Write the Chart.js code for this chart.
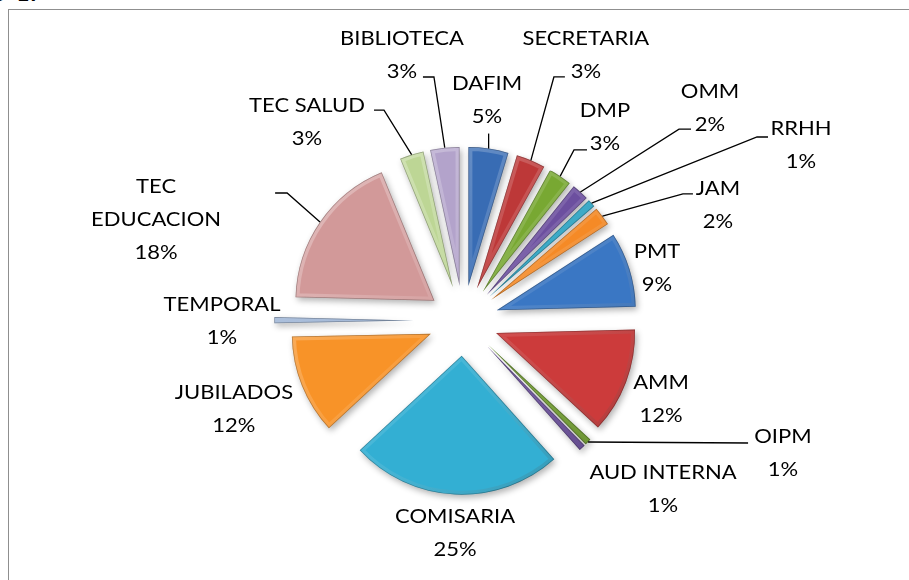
<!DOCTYPE html>
<html><head><meta charset="utf-8">
<script src="https://cdn.jsdelivr.net/npm/chart.js@4.4.1/dist/chart.umd.min.js"></script>
<style>
html,body{margin:0;padding:0;background:#fff;overflow:hidden;}
#wrap{position:relative;width:909px;height:580px;overflow:hidden;}
#frame{position:absolute;left:8px;top:9px;width:920px;height:600px;border-top:1.5px solid #8f8f8f;border-left:1.5px solid #8f8f8f;}
#cap{position:absolute;left:-7px;top:-18px;font:bold 20px "DejaVu Sans Mono";color:#000;white-space:pre;}
canvas{position:absolute;left:0;top:0;}
</style></head><body>
<div id="wrap"><div id="cap">o 17</div><div id="frame"></div><canvas id="c" width="909" height="580"></canvas></div>
<script>
// ---- data ----
const categories = ['DAFIM','SECRETARIA','DMP','OMM','RRHH','JAM','PMT','AMM','OIPM','AUD INTERNA','COMISARIA','JUBILADOS','TEMPORAL',['TEC','EDUCACION'],'TEC SALUD','BIBLIOTECA'];
const values = [4.65,3.4,2.7,2.0,0.9,2.2,8.75,12.3,0.75,0.75,24.7,11.6,0.7,18.4,2.8,3.4];

// ---- style / layout ----
const colors = ['#386cb4','#bd3838','#78a832','#6c4f9f','#27a1c1','#f58a26','#3a77c4','#cc3b3b','#78a832','#6c4f9f','#33afd3','#f89328','#94add1','#d29999','#bdd695','#b3a3cb'];
const explode = [35,35,35,35,35,35,35,35,35,35,35,35,50,35,35,35];
// label centre offset from the slice's outer mid point
const labelOffset = [[-1.6,-50],[55,-106],[44.8,-49.8],[129.6,-85.4],[209.4,-58.7],[115.5,-11.8],[27.5,-2.3],[35,16.3],[194.9,10.5],[80.8,40.6],[0,38],[-68,22.2],[-52.3,0.4],[-163.9,-3.5],[-104.6,-33.5],[-42.8,-93.2]];
// leader line points relative to the slice's outer mid point
const leaders = [[[0,0],[0,-15]],[[0,0],[23,-83.4],[34,-83.4]],[[0,0],[13.8,-26.3],[26.8,-26.3]],[[0,0],[98.6,-62.9],[110.6,-62.9]],[[0,0],[165.4,-66.2],[176.4,-66.2]],[[0,0],[80.5,-22.3],[90.5,-22.3]],null,null,[[0,0],[160,1]],null,null,null,null,[[0,0],[-32.9,-29],[-44.9,-29]],[[0,0],[-27.6,-44.5],[-37.6,-44.5]],[[0,0],[-10.8,-70.7],[-21.8,-70.7]]];
const FONT = '20px Lato';
const LINE_H = 33;
const TEXT_SX = 1.1;

const total = values.reduce((a,b)=>a+b,0);

const explodePlugin = {
  id: 'explode',
  beforeDatasetDraw(chart, args) {
    const ctx = chart.ctx;
    args.meta.data.forEach((arc, i) => {
      const mid = (arc.startAngle + arc.endAngle) / 2;
      const e = explode[i];
      ctx.save();
      ctx.translate(Math.cos(mid) * e, Math.sin(mid) * e);
      ctx.save();
      ctx.shadowColor = 'rgba(0,0,0,0.3)';
      ctx.shadowBlur = 6; ctx.shadowOffsetX = 2; ctx.shadowOffsetY = 3;
      arc.draw(ctx);
      ctx.restore();
      // bevel
      const path = new Path2D();
      path.moveTo(arc.x, arc.y);
      path.arc(arc.x, arc.y, arc.outerRadius, arc.startAngle, arc.endAngle);
      path.closePath();
      ctx.save();
      ctx.clip(path);
      const r = arc.outerRadius;
      const g = ctx.createLinearGradient(arc.x - r, arc.y - r, arc.x + r, arc.y + r);
      g.addColorStop(0, 'rgba(255,255,255,0.35)');
      g.addColorStop(0.5, 'rgba(255,255,255,0.1)');
      g.addColorStop(1, 'rgba(0,0,0,0.2)');
      ctx.strokeStyle = g; ctx.lineWidth = 8; ctx.lineJoin = 'round';
      ctx.stroke(path);
      ctx.strokeStyle = 'rgba(0,0,0,0.28)'; ctx.lineWidth = 1.5;
      ctx.stroke(path);
      ctx.restore();
      ctx.restore();
    });
    return false;
  },
  afterDatasetsDraw(chart) {
    const ctx = chart.ctx;
    const meta = chart.getDatasetMeta(0);
    ctx.save();
    ctx.font = FONT;
    ctx.fillStyle = '#000';
    ctx.textAlign = 'center';
    ctx.textBaseline = 'middle';
    meta.data.forEach((arc, i) => {
      const mid = (arc.startAngle + arc.endAngle) / 2;
      const d = explode[i] + arc.outerRadius;
      const px = arc.x + Math.cos(mid) * d;
      const py = arc.y + Math.sin(mid) * d;
      if (leaders[i]) {
        ctx.beginPath();
        leaders[i].forEach((p, k) => { k ? ctx.lineTo(px + p[0], py + p[1]) : ctx.moveTo(px + p[0], py + p[1]); });
        ctx.strokeStyle = '#000'; ctx.lineWidth = 1.3;
        ctx.stroke();
      }
      const cat = categories[i];
      const lines = (Array.isArray(cat) ? cat.slice() : [cat]);
      lines.push(Math.round(values[i] / total * 100) + '%');
      const cx = px + labelOffset[i][0];
      const cy = py + labelOffset[i][1];
      const y0 = cy - (lines.length - 1) * LINE_H / 2;
      lines.forEach((t, k) => {
        ctx.save();
        ctx.translate(cx, y0 + k * LINE_H);
        ctx.scale(TEXT_SX, 1);
        ctx.fillText(t, 0, 1);
        ctx.restore();
      });
    });
    ctx.restore();
  }
};

new Chart(document.getElementById('c'), {
  type: 'pie',
  data: { labels: categories, datasets: [{ data: values, backgroundColor: colors, borderWidth: 0, radius: 139 }] },
  options: {
    responsive: false, animation: false, radius: 139,
    layout: { padding: { left: 17.6, top: 61.4, right: 0, bottom: 0 } },
    plugins: { legend: { display: false }, tooltip: { enabled: false } },
    events: []
  },
  plugins: [explodePlugin]
});
</script>
</body></html>
